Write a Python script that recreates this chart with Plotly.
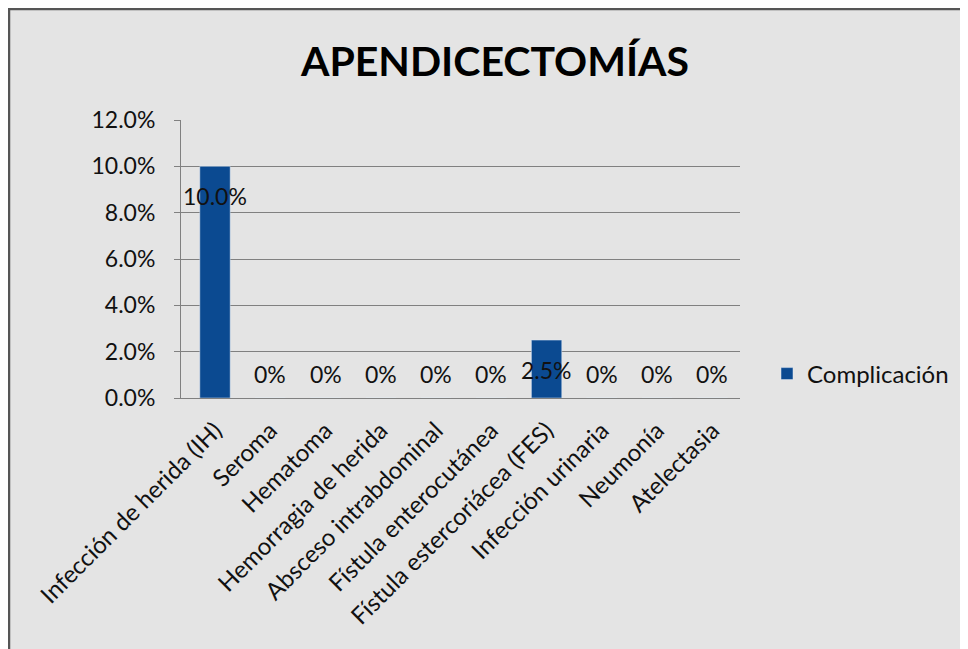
import plotly.graph_objects as go

# --- data ---
categorias = [
    "Infección de herida (IH)", "Seroma", "Hematoma", "Hemorragia de herida",
    "Absceso intrabdominal", "Fístula enterocutánea", "Fístula estercoriácea (FES)",
    "Infección urinaria", "Neumonía", "Atelectasia",
]
valores = [0.10, 0, 0, 0, 0, 0, 0.025, 0, 0, 0]
etiquetas = ["10.0%", "0%", "0%", "0%", "0%", "0%", "2.5%", "0%", "0%", "0%"]

FONT = "Lato"
BAR = "#0B4A91"
# la página tiene 8px de margen en el body
W, H = 960, 641
L, T = 173, 112
pw, ph = 559, 278
R, B = W - L - pw, H - T - ph

fig = go.Figure()
fig.add_trace(go.Bar(
    x=categorias, y=valores, name="Complicación",
    marker_color=BAR, width=0.55,
))

# etiquetas de datos
for cat, v, txt in zip(categorias, valores, etiquetas):
    fig.add_annotation(
        x=cat, y=v, text=txt, showarrow=False,
        yshift=-30 if v > 0 else 24,
        font=dict(family=FONT, size=23, color="#111111"),
    )

# marco del gráfico (coordenadas paper)
fig.add_shape(
    type="rect", xref="paper", yref="paper", layer="below",
    x0=(1 - L) / pw, x1=(W + 10 - L) / pw,
    y0=-(B + 10) / ph, y1=(T - 1) / ph + 1,
    fillcolor="#E4E4E4", line=dict(color="#555555", width=2.5),
)

fig.update_layout(
    width=W, height=H,
    margin=dict(l=L, r=R, t=T, b=B),
    paper_bgcolor="white",
    plot_bgcolor="rgba(0,0,0,0)",
    title=dict(
        text="<b>APENDICECTOMÍAS</b>", x=487 / W, xanchor="center",
        y=1 - 54 / H, yanchor="middle",
        font=dict(family=FONT, size=41, color="#000000"),
    ),
    showlegend=True,
    legend=dict(
        x=(759 - L) / pw, y=(T + ph - 366) / ph, xanchor="left", yanchor="middle",
        font=dict(family=FONT, size=24, color="#111111"),
        bgcolor="rgba(0,0,0,0)", itemwidth=30,
    ),
)

fig.update_yaxes(
    range=[0, 0.12], dtick=0.02, tickformat=".1%",
    showgrid=True, gridcolor="#808080", gridwidth=1,
    showline=True, linecolor="#808080", linewidth=1,
    ticks="outside", ticklen=6, tickcolor="#808080",
    ticklabelstandoff=14,
    tickfont=dict(family=FONT, size=23, color="#111111"),
    zeroline=False,
)
fig.update_xaxes(
    tickangle=-45, showline=True, linecolor="#808080", linewidth=1,
    ticks="", ticklabelstandoff=8,
    tickfont=dict(family=FONT, size=24, color="#111111"),
)

fig.write_html("out.html")
